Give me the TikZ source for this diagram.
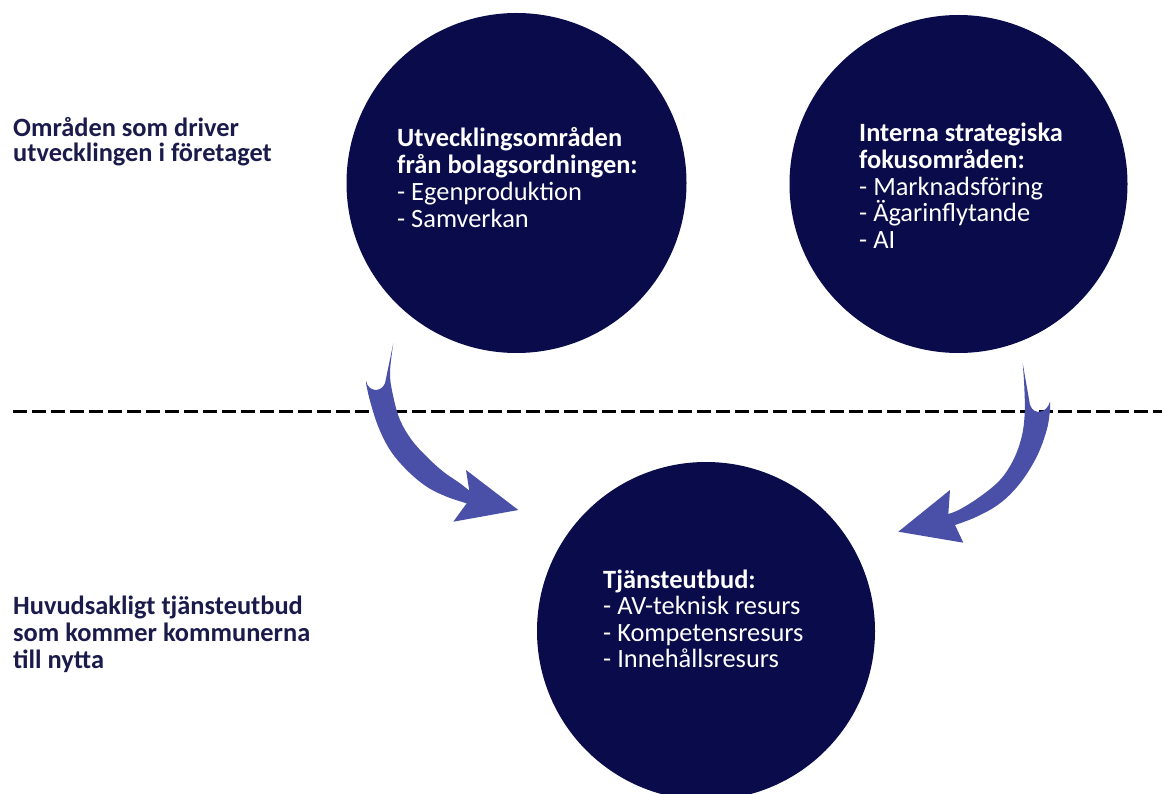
\documentclass[tikz,border=0pt]{standalone}
\usepackage{fontspec}
\setmainfont{Carlito}
\definecolor{navy}{HTML}{0A0B4A}
\definecolor{labelnavy}{HTML}{1A1B4B}
\definecolor{arrowblue}{HTML}{4A4FA7}
\tikzset{
  bubble/.style={circle, fill=navy, inner sep=0pt, minimum size=#1},
  bubbletext/.style={anchor=base west, align=left, inner sep=0pt, text=white},
  sidelabel/.style={anchor=base west, align=left, inner sep=0pt, text=labelnavy},
  sepline/.style={line width=3pt, dash pattern=on 14pt off 5pt, black},
  blockarrow/.style={fill=arrowblue}
}
\begin{document}
\begin{tikzpicture}[x=1pt,y=-1pt]
\path[use as bounding box, clip] (0,0) rectangle (1162,794);
\fill[white] (0,0) rectangle (1162,794);

% circles
\node[bubble=340pt] (c1) at (516.5,183) {};
\node[bubble=338pt] (c2) at (958.5,184) {};
\node[bubble=338pt] (c3) at (706,631) {};

% texts in circles (base anchor = last line baseline)
\node[bubbletext, font=\fontsize{26.4}{27}\selectfont] (t1) at (397,228) {\textbf{Utvecklingsområden}\\\textbf{från bolagsordningen:}\\- Egenproduktion\\- Samverkan};
\node[bubbletext, font=\fontsize{26.4}{26.7}\selectfont] (t2) at (859,248.5) {\textbf{Interna strategiska}\\\textbf{fokusområden:}\\- Marknadsföring\\- Ägarinflytande\\- AI};
\node[bubbletext, font=\fontsize{26.4}{26.5}\selectfont] (t3) at (603,667.5) {\textbf{Tjänsteutbud:}\\- AV-teknisk resurs\\- Kompetensresurs\\- Innehållsresurs};

% side labels
\node[sidelabel, font=\bfseries\fontsize{26.4}{25.5}\selectfont] (l1) at (13,161.7) {Områden som driver\\utvecklingen i företaget};
\node[sidelabel, font=\bfseries\fontsize{26.4}{26.7}\selectfont] (l2) at (13,668.3) {Huvudsakligt tjänsteutbud\\som kommer kommunerna\\till nytta};

% separator
\coordinate (sepL) at (13,411);
\coordinate (sepR) at (1162,411);
\draw[sepline] (sepL) -- (sepR);

% left block arrow
\fill[blockarrow] plot[smooth, tension=0.6] coordinates {(393.3,343.3) (390,373.3) (393.3,396.7) (400,420) (411.7,440) (426.7,456.7) (443.3,471.7) (460,483.3) (469.3,490.7)}
  -- (466,470) -- (518.3,510) -- (453.3,521.7) -- (466.7,503.3)
  -- plot[smooth, tension=0.6] coordinates {(466.7,503.3) (446.7,496.7) (426.7,486.7) (406.7,470) (390,450) (378.3,426.7) (370.7,403.3) (366.7,386.7) (366,380.7)}
  .. controls (368,392) and (381,393) .. (385,383.3) -- cycle;

% right block arrow
\fill[blockarrow] plot[smooth, tension=0.6] coordinates {(1022.7,363.3) (1024.3,386.7) (1024.7,413.3) (1021.7,436.7) (1013.3,460) (1000,480) (980,496.7) (960,509.3) (948.3,514)}
  -- (950,490) -- (898.3,531.7) -- (963.3,542.7) -- (955,525)
  -- plot[smooth, tension=0.6] coordinates {(955,525) (976.7,516.7) (1000,503.3) (1020,483.3) (1036.7,456.7) (1046.7,430) (1050,410) (1050,401.7)}
  .. controls (1047,413) and (1034,416) .. (1030,405) -- cycle;
\end{tikzpicture}
\end{document}
